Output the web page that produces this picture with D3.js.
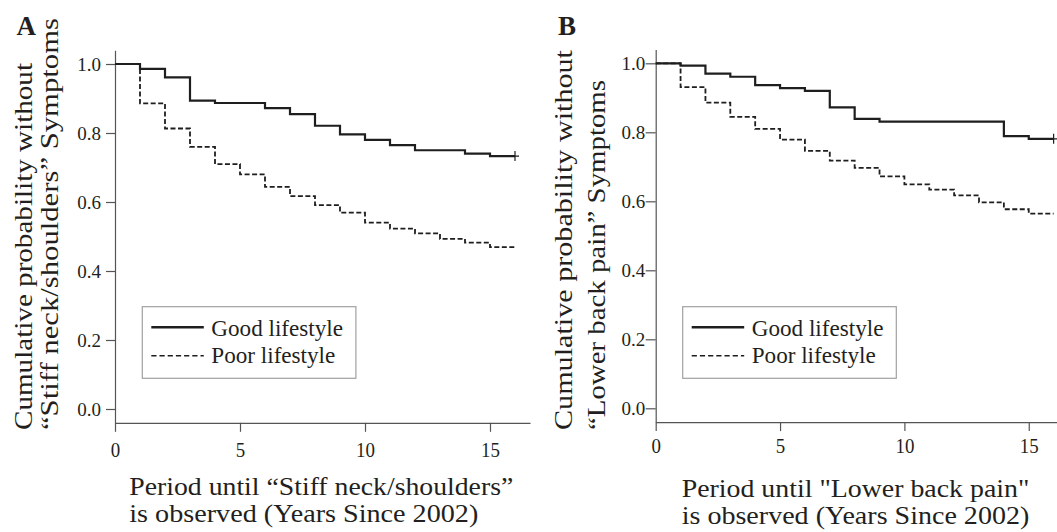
<!DOCTYPE html>
<html>
<head>
<meta charset="utf-8">
<script src="https://cdn.jsdelivr.net/npm/d3@7"></script>
<style>
  body { margin: 0; background: #fff; }
  .axis path, .axis line { stroke: #555; stroke-width: 1.2; }
</style>
</head>
<body>
<script>
// step start years (value holds from year i until i+1), curves end at year 16
var years = [0, 1, 2, 3, 4, 5, 6, 7, 8, 9, 10, 11, 12, 13, 14, 15];
var endYear = 16;

// Panel A: "Stiff neck/shoulders"
var goodA = [1.0, 0.986, 0.961, 0.894, 0.887, 0.887, 0.872, 0.855, 0.821, 0.796, 0.780, 0.765, 0.750, 0.750, 0.740, 0.733];
var poorA = [1.0, 0.886, 0.813, 0.760, 0.710, 0.680, 0.644, 0.617, 0.591, 0.569, 0.540, 0.523, 0.509, 0.493, 0.482, 0.469];

// Panel B: "Lower back pain"
var goodB = [1.0, 0.993, 0.970, 0.961, 0.937, 0.928, 0.920, 0.872, 0.839, 0.831, 0.831, 0.831, 0.831, 0.831, 0.789, 0.781];
var poorB = [1.0, 0.931, 0.886, 0.845, 0.810, 0.779, 0.746, 0.718, 0.697, 0.672, 0.649, 0.634, 0.617, 0.597, 0.577, 0.564];

var yTicks = [0.0, 0.2, 0.4, 0.6, 0.8, 1.0];
var xTicks = [0, 5, 10, 15];
var legendLabels = ["Good lifestyle", "Poor lifestyle"];

var width = 1057, height = 532;
var serif = '"Liberation Serif", "Times New Roman", Times, serif';

var svg = d3.select("body").append("svg")
  .attr("width", width)
  .attr("height", height)
  .style("display", "block");

// squeeze/stretch text to the measured width
function fit(sel, len) {
  sel.attr("textLength", len).attr("lengthAdjust", "spacingAndGlyphs");
  return sel;
}

function drawPanel(p) {
  var x = d3.scaleLinear()
    .domain([0, p.xMax])
    .range([p.x0, p.x0 + p.xMax * p.xUnit]);
  var y = d3.scaleLinear()
    .domain([-0.04, 1.04])
    .range([p.y0 + 0.04 * p.yUnit, p.y0 - 1.04 * p.yUnit]);

  var g = svg.append("g");

  // axes
  var yAxis = g.append("g")
    .attr("class", "axis")
    .attr("transform", "translate(" + p.x0 + ",0)")
    .call(d3.axisLeft(y)
      .tickValues(yTicks)
      .tickFormat(d3.format(".1f"))
      .tickSize(p.yTickSize)
      .tickPadding(p.yTickPad)
      .tickSizeOuter(0));
  yAxis.attr("font-family", null);
  yAxis.selectAll("text")
    .style("font-family", serif)
    .style("font-size", "19px")
    .attr("fill", "#231f20");

  var xAxis = g.append("g")
    .attr("class", "axis")
    .attr("transform", "translate(0," + y(-0.04) + ")")
    .call(d3.axisBottom(x)
      .tickValues(xTicks)
      .tickSize(9)
      .tickPadding(p.xTickPad)
      .tickSizeOuter(0));
  xAxis.attr("font-family", null);
  xAxis.selectAll("text")
    .style("font-family", serif)
    .style("font-size", "21px")
    .attr("fill", "#231f20")
    .each(function() {
      d3.select(this)
        .attr("textLength", this.getComputedTextLength() * 0.9)
        .attr("lengthAdjust", "spacingAndGlyphs");
    });
  g.selectAll(".axis .domain").attr("fill", "none");

  // curves
  var line = d3.line()
    .x(function(d) { return x(d[0]); })
    .y(function(d) { return y(d[1]); })
    .curve(d3.curveStepAfter);

  function pts(vals) {
    var a = years.map(function(t, i) { return [t, vals[i]]; });
    a.push([endYear, vals[vals.length - 1]]);
    return a;
  }

  g.append("path")
    .datum(pts(p.good))
    .attr("d", line)
    .attr("fill", "none")
    .attr("stroke", "#1e1e1e")
    .attr("stroke-width", 2.2);

  g.append("path")
    .datum(pts(p.poor))
    .attr("d", line)
    .attr("fill", "none")
    .attr("stroke", "#1e1e1e")
    .attr("stroke-width", 1.8)
    .attr("stroke-dasharray", "5,2.5");

  // censor mark at end of good curve
  var cx = x(endYear), cy = y(p.good[p.good.length - 1]);
  g.append("path")
    .attr("d", "M" + cx + "," + (cy - 5) + "V" + (cy + 5) + "M" + (cx - 4) + "," + cy + "H" + (cx + 4))
    .attr("stroke", "#1e1e1e")
    .attr("stroke-width", 1.2);

  // legend
  var lg = g.append("g");
  lg.append("rect")
    .attr("x", p.legX)
    .attr("y", 306.7)
    .attr("width", 213.6)
    .attr("height", 71.6)
    .attr("fill", "#fff")
    .attr("stroke", "#a0a0a0")
    .attr("stroke-width", 1.2);
  var rows = lg.selectAll("g.row")
    .data(legendLabels)
    .enter()
    .append("g")
    .attr("class", "row")
    .attr("transform", function(d, i) { return "translate(" + p.legX + "," + (i === 0 ? 327.3 : 355.7) + ")"; });
  rows.append("line")
    .attr("x1", 9)
    .attr("x2", 61.5)
    .attr("stroke", "#1e1e1e")
    .attr("stroke-width", function(d, i) { return i === 0 ? 2.6 : 1.4; })
    .attr("stroke-dasharray", function(d, i) { return i === 0 ? null : "5.2,3"; });
  rows.append("text")
    .attr("x", 69)
    .attr("y", function(d, i) { return i === 0 ? 8.7 : 7.6; })
    .style("font-family", serif)
    .style("font-size", "24px")
    .attr("fill", "#231f20")
    .text(function(d) { return d; })
    .each(function(d, i) { fit(d3.select(this), i === 0 ? 131.7 : 124); });

  // panel letter
  g.append("text")
    .attr("x", p.letterX)
    .attr("y", 35)
    .style("font-family", serif)
    .style("font-size", "27px")
    .style("font-weight", "bold")
    .attr("fill", "#231f20")
    .text(p.letter);

  // y title (two lines, rotated)
  p.yTitle.forEach(function(s, i) {
    fit(g.append("text")
      .attr("transform", "translate(" + p.yTitleX[i] + ",430) rotate(-90)")
      .style("font-family", serif)
      .style("font-size", "26px")
      .attr("fill", "#231f20")
      .text(s), p.yTitleLen[i]);
  });

  // x title (two lines)
  p.xTitle.forEach(function(s, i) {
    fit(g.append("text")
      .attr("x", p.xTitleX)
      .attr("y", p.xTitleY[i])
      .style("font-family", serif)
      .style("font-size", "25px")
      .attr("fill", "#231f20")
      .text(s), p.xTitleLen[i]);
  });
}

drawPanel({
  letter: "A", letterX: 16.5,
  x0: 115, xUnit: 25, xMax: 16.6,
  y0: 409, yUnit: 345,
  yTickSize: 9, yTickPad: 5, xTickPad: 10.5,
  good: goodA, poor: poorA,
  legX: 142.3,
  yTitle: ["Cumulative probability without", "\u201cStiff neck/shoulders\u201d Symptoms"],
  yTitleX: [31.5, 58], yTitleLen: [367, 412],
  xTitle: ["Period until \u201cStiff neck/shoulders\u201d", "is observed (Years Since 2002)"],
  xTitleX: 129.3, xTitleY: [495, 521.5], xTitleLen: [384, 349]
});

drawPanel({
  letter: "B", letterX: 558,
  x0: 655.7, xUnit: 24.87, xMax: 16.14,
  y0: 408.3, yUnit: 345,
  yTickSize: 10, yTickPad: 0.5, xTickPad: 7.3,
  good: goodB, poor: poorB,
  legX: 682.7,
  yTitle: ["Cumulative probability without", "\u201cLower back pain\u201d Symptoms"],
  yTitleX: [572, 604.5], yTitleLen: [380, 350],
  xTitle: ["Period until \"Lower back pain\"", "is observed (Years Since 2002)"],
  xTitleX: 681.7, xTitleY: [496.7, 524], xTitleLen: [347.6, 347.6]
});
</script>
</body>
</html>
